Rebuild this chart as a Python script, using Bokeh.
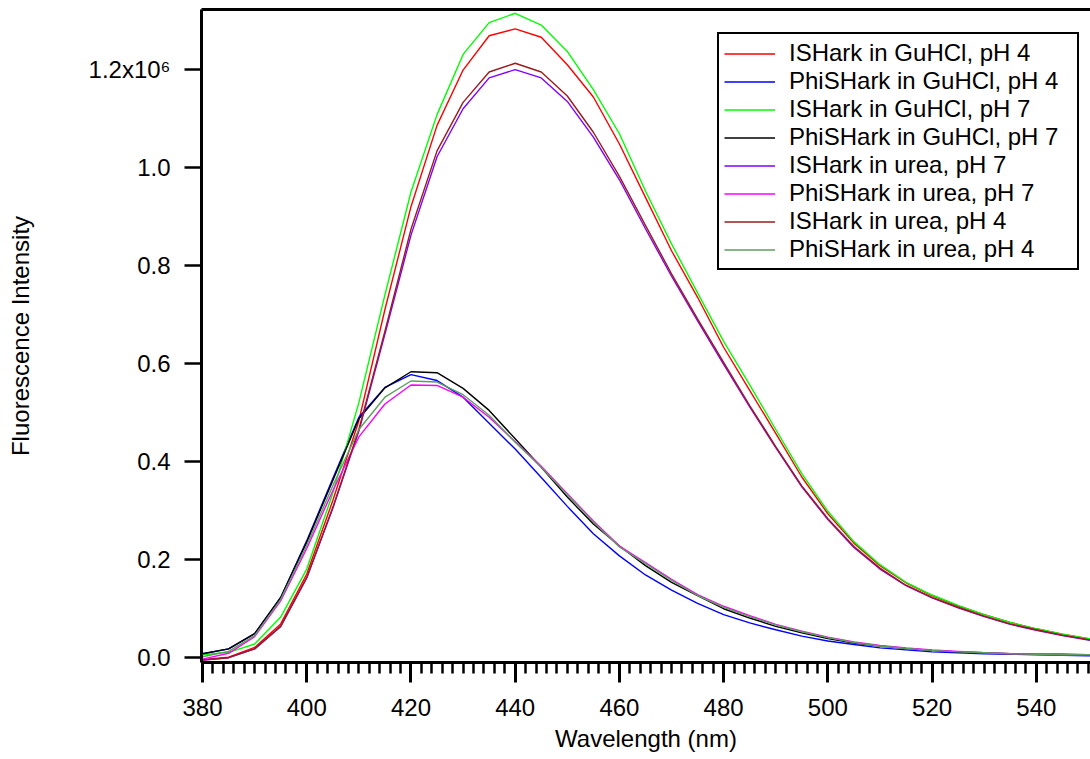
from bokeh.plotting import figure
from bokeh.models import (Range1d, LinearAxis, FixedTicker, SingleIntervalTicker,
                          CustomJSTickFormatter, Legend, LegendItem)
from bokeh.embed import file_html
from bokeh.resources import INLINE

# Wavelength (nm)
wavelength = [380, 385, 390, 395, 400, 405, 410, 415, 420, 425, 430, 435, 440, 445,
              450, 455, 460, 465, 470, 475, 480, 485, 490, 495, 500, 505, 510, 515,
              520, 525, 530, 535, 540, 545, 550, 555]

# Fluorescence intensity, in units of 10^6
ishark_guhcl_ph4 = [-0.005, 0.000, 0.020, 0.068, 0.170, 0.320, 0.483, 0.710, 0.920, 1.086,
                    1.199, 1.269, 1.283, 1.266, 1.210, 1.144, 1.048, 0.939, 0.830, 0.735,
                    0.633, 0.545, 0.457, 0.368, 0.293, 0.233, 0.187, 0.152, 0.126, 0.105,
                    0.087, 0.071, 0.058, 0.047, 0.038, 0.031]
phishark_guhcl_ph4 = [0.007, 0.017, 0.048, 0.122, 0.238, 0.365, 0.490, 0.551, 0.577, 0.565,
                      0.531, 0.478, 0.425, 0.367, 0.308, 0.252, 0.207, 0.168, 0.137, 0.110,
                      0.087, 0.070, 0.056, 0.043, 0.033, 0.026, 0.019, 0.015, 0.011, 0.009,
                      0.007, 0.006, 0.005, 0.004, 0.003, 0.003]
ishark_guhcl_ph7 = [0.005, 0.010, 0.027, 0.082, 0.180, 0.335, 0.520, 0.740, 0.950, 1.108,
                    1.231, 1.296, 1.315, 1.291, 1.237, 1.159, 1.069, 0.952, 0.844, 0.744,
                    0.645, 0.556, 0.465, 0.375, 0.298, 0.236, 0.189, 0.153, 0.127, 0.106,
                    0.087, 0.071, 0.058, 0.047, 0.038, 0.031]
phishark_guhcl_ph7 = [0.007, 0.017, 0.048, 0.122, 0.235, 0.361, 0.487, 0.550, 0.583, 0.581,
                      0.549, 0.504, 0.446, 0.388, 0.327, 0.272, 0.227, 0.187, 0.153, 0.126,
                      0.099, 0.080, 0.063, 0.050, 0.038, 0.029, 0.023, 0.018, 0.014, 0.011,
                      0.009, 0.007, 0.006, 0.006, 0.005, 0.005]
ishark_urea_ph7 = [-0.006, -0.001, 0.017, 0.063, 0.162, 0.304, 0.462, 0.660, 0.862, 1.022,
                   1.120, 1.183, 1.200, 1.183, 1.135, 1.062, 0.975, 0.875, 0.778, 0.687,
                   0.598, 0.511, 0.428, 0.348, 0.281, 0.224, 0.180, 0.146, 0.121, 0.101,
                   0.083, 0.067, 0.055, 0.044, 0.035, 0.029]
phishark_urea_ph7 = [-0.004, 0.008, 0.042, 0.115, 0.222, 0.340, 0.450, 0.517, 0.556, 0.555,
                     0.531, 0.490, 0.440, 0.390, 0.334, 0.278, 0.227, 0.193, 0.159, 0.128,
                     0.104, 0.085, 0.067, 0.053, 0.041, 0.031, 0.024, 0.019, 0.015, 0.012,
                     0.009, 0.007, 0.006, 0.005, 0.005, 0.004]
ishark_urea_ph4 = [-0.006, -0.001, 0.017, 0.063, 0.163, 0.306, 0.465, 0.666, 0.874, 1.034,
                   1.133, 1.195, 1.213, 1.195, 1.146, 1.072, 0.982, 0.882, 0.783, 0.691,
                   0.602, 0.514, 0.430, 0.350, 0.283, 0.226, 0.182, 0.147, 0.122, 0.102,
                   0.084, 0.068, 0.056, 0.045, 0.036, 0.030]
phishark_urea_ph4 = [0.001, 0.012, 0.044, 0.118, 0.228, 0.350, 0.465, 0.531, 0.564, 0.562,
                     0.536, 0.494, 0.439, 0.388, 0.332, 0.276, 0.225, 0.191, 0.157, 0.126,
                     0.102, 0.083, 0.066, 0.052, 0.040, 0.030, 0.023, 0.018, 0.014, 0.011,
                     0.009, 0.007, 0.006, 0.005, 0.005, 0.004]

series_names = ["ISHark in GuHCl, pH 4", "PhiSHark in GuHCl, pH 4",
                "ISHark in GuHCl, pH 7", "PhiSHark in GuHCl, pH 7",
                "ISHark in urea, pH 7", "PhiSHark in urea, pH 7",
                "ISHark in urea, pH 4", "PhiSHark in urea, pH 4"]
series_values = [ishark_guhcl_ph4, phishark_guhcl_ph4, ishark_guhcl_ph7, phishark_guhcl_ph7,
                 ishark_urea_ph7, phishark_urea_ph7, ishark_urea_ph4, phishark_urea_ph4]
series_colors = ["#ff0000", "#0000ff", "#00ff00", "#000000",
                 "#8000ff", "#ff00ff", "#9b1c1c", "#5e9e5e"]

y_ticks = [0.0, 0.2, 0.4, 0.6, 0.8, 1.0, 1.2]
y_labels = ["0.0", "0.2", "0.4", "0.6", "0.8", "1.0", "1.2x10\u2076"]

FONT = "Liberation Sans"

p = figure(width=1090, height=759, output_backend="svg", toolbar_location=None,
           x_range=Range1d(379.8, 550.4), y_range=Range1d(-0.0108, 1.3227))
p.min_border_left = 201
p.min_border_right = 0
p.min_border_top = 9
p.min_border_bottom = 97
p.grid.visible = False
p.outline_line_color = None
p.background_fill_color = "white"
p.border_fill_color = "white"

xa = p.xaxis[0]
xa.ticker = SingleIntervalTicker(interval=20, num_minor_ticks=10)
xa.axis_line_width = 3
xa.major_tick_line_width = 3
xa.major_tick_out = 20
xa.major_tick_in = 0
xa.minor_tick_line_width = 2.5
xa.minor_tick_out = 11
xa.minor_tick_in = 0
xa.major_label_text_font = FONT
xa.major_label_text_font_size = "24px"
xa.major_label_text_color = "black"
xa.major_label_standoff = 16
xa.axis_label = "Wavelength (nm)"
xa.axis_label_text_font = FONT
xa.axis_label_text_font_size = "24px"
xa.axis_label_text_font_style = "normal"
xa.axis_label_text_color = "black"
xa.axis_label_standoff = 6

ya = p.yaxis[0]
ya.ticker = FixedTicker(ticks=y_ticks)
ya.formatter = CustomJSTickFormatter(
    args=dict(tvals=y_ticks, tlabels=y_labels),
    code="const i = tvals.findIndex(t => Math.abs(t - tick) < 1e-9); return i >= 0 ? tlabels[i] : '';")
ya.axis_line_width = 3
ya.major_tick_line_width = 2.5
ya.major_tick_out = 17
ya.major_tick_in = 0
ya.minor_tick_out = 0
ya.minor_tick_in = 0
ya.major_label_text_font = FONT
ya.major_label_text_font_size = "24px"
ya.major_label_text_color = "black"
ya.major_label_standoff = 14
ya.axis_label = "Fluorescence Intensity"
ya.axis_label_text_font = FONT
ya.axis_label_text_font_size = "24px"
ya.axis_label_text_font_style = "normal"
ya.axis_label_text_color = "black"
ya.axis_label_standoff = 52

top = LinearAxis(ticker=FixedTicker(ticks=[]), axis_line_width=3,
                 major_label_text_font_size="0px", major_tick_out=0, major_tick_in=0,
                 minor_tick_out=0, minor_tick_in=0, major_label_standoff=0)
p.add_layout(top, "above")

items = []
for name, ys, color in zip(series_names, series_values, series_colors):
    r = p.line(wavelength, ys, line_color=color, line_width=1.4)
    items.append(LegendItem(label=name, renderers=[r]))

legend = Legend(items=items, location=(516, 392))
legend.border_line_color = "black"
legend.border_line_alpha = 1.0
legend.border_line_width = 2
legend.background_fill_color = "white"
legend.background_fill_alpha = 1.0
legend.label_text_font = FONT
legend.label_text_font_size = "24px"
legend.label_text_color = "black"
legend.glyph_width = 51
legend.glyph_height = 27
legend.label_height = 27
legend.label_width = 283
legend.label_standoff = 14
legend.spacing = 0
legend.padding = 5
legend.margin = 0
p.add_layout(legend)

open("out.html", "w").write(file_html(p, INLINE))
